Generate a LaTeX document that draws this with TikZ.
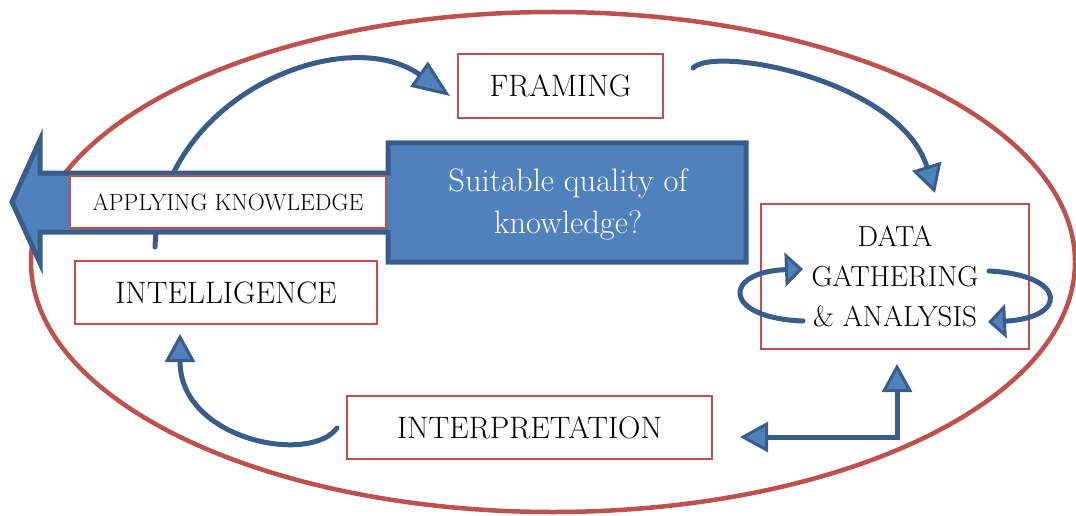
\documentclass[tikz,border=0pt]{standalone}
\usetikzlibrary{arrows.meta}
\definecolor{ringred}{HTML}{C0504D}
\definecolor{fillblue}{HTML}{4F81BD}
\definecolor{edgeblue}{HTML}{385D8A}
\tikzset{
  stage/.style={draw=ringred, line width=2pt, fill=white, inner sep=0pt, align=center, font=\fontsize{31}{40}\selectfont},
  flow/.style={draw=edgeblue, line width=5pt, line cap=round, -{Triangle[length=28pt,width=30pt,fill=fillblue,line width=3pt]}},
  twoway/.style={flow, {Triangle[length=28pt,width=30pt,fill=fillblue,line width=3pt]}-{Triangle[length=28pt,width=30pt,fill=fillblue,line width=3pt]}},
  spin/.style={flow, -{Triangle[length=18pt,width=34pt,fill=fillblue,line width=3pt]}}
}
\begin{document}
\begin{tikzpicture}[x=1pt, y=-1pt]
        \useasboundingbox (0,0) rectangle (1076,516);
        \draw[ringred, line width=4.5pt] (553,262) ellipse [x radius=522, y radius=250];

        \node[stage, minimum width=205pt, minimum height=64pt] (framing) at (560.5,86) {FRAMING};
        \node[stage, font=\fontsize{29}{40}\selectfont, minimum width=268pt, minimum height=145pt] (data) at (895,276.5) {DATA\\GATHERING\\\& ANALYSIS};
        \node[stage, minimum width=365pt, minimum height=63pt] (interp) at (529.5,427.5) {INTERPRETATION};
        \node[stage, minimum width=302pt, minimum height=63pt] (intel) at (226,292.5) {INTELLIGENCE};

        \coordinate (useOut) at (155,247);
        \coordinate (frameIn) at (450,96);
        \coordinate (frameOut) at (693,68);
        \coordinate (dataIn) at (935,193);
        \coordinate (interpOut) at (337,428);
        \coordinate (intelIn) at (180,334);
        \coordinate (backTip) at (740,437);
        \coordinate (upTip) at (897,364);

        \draw[flow, -{Triangle[length=38pt,width=30pt,fill=fillblue,line width=3pt]}] (useOut) .. controls (160,95) and (345,22) .. (frameIn);
        \draw[flow] (frameOut) .. controls (715,45) and (900,80) .. (dataIn);
        \draw[flow] (interpOut) .. controls (310,465) and (180,440) .. (intelIn);
        \draw[twoway] (backTip) -| (upTip);

        % loops round the data box
        \draw[spin] (803,321) .. controls (722,318) and (722,272) .. (803,269);
        \draw[spin] (989,271) .. controls (1068,275) and (1068,318) .. (988,322);

        % callout box with its arrow to the left
        \draw[draw=edgeblue, fill=fillblue, line width=5pt, line join=miter]
          (746,143) -- (388,143) -- (388,173) -- (40,173) -- (40,140) -- (12,202)
          -- (40,263) -- (40,232) -- (388,232) -- (388,262) -- (746,262) -- cycle;
        \node[stage, font=\fontsize{23.5}{30}\selectfont, minimum width=316pt, minimum height=52pt] (apply) at (228,202) {APPLYING KNOWLEDGE};
        \node[align=center, text=white, font=\fontsize{32.5}{42}\selectfont] (quality) at (568,204) {Suitable quality of\\knowledge?};
    \end{tikzpicture}
\end{document}
